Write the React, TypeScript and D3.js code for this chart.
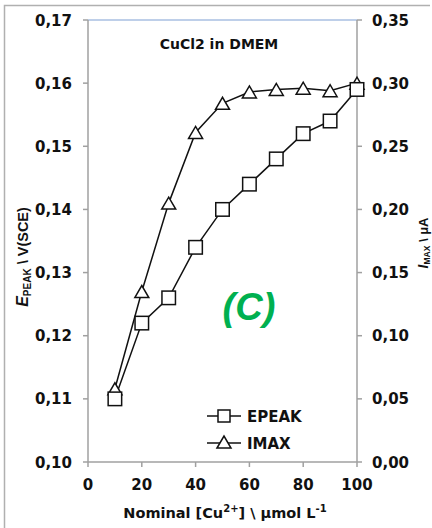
import React from "react";
import * as d3 from "d3";

const concentrations = [10, 20, 30, 40, 50, 60, 70, 80, 90, 100];
const epeak = [0.110, 0.122, 0.126, 0.134, 0.140, 0.144, 0.148, 0.152, 0.154, 0.159];
const imax = [0.058, 0.135, 0.205, 0.261, 0.284, 0.293, 0.295, 0.296, 0.294, 0.300];
const xTicks = [0, 20, 40, 60, 80, 100];
const leftTicks = [0.10, 0.11, 0.12, 0.13, 0.14, 0.15, 0.16, 0.17];
const rightTicks = [0.0, 0.05, 0.10, 0.15, 0.20, 0.25, 0.30, 0.35];

const W = 432, H = 528;
const L = 88, R = 357, T = 20, B = 462;
const font = "'Liberation Sans', Arial, sans-serif";
const wide = "'DejaVu Sans', 'Liberation Sans', sans-serif";
const axisColor = "#a0a0a0";

export default function App() {
  const x = d3.scaleLinear().domain([0, 100]).range([L, R]);
  const yL = d3.scaleLinear().domain([0.10, 0.17]).range([B, T]);
  const yR = d3.scaleLinear().domain([0, 0.35]).range([B, T]);
  const line = d3.line<[number, number]>().x(d => d[0]).y(d => d[1]);
  const ePts: [number, number][] = concentrations.map((c, i) => [x(c), yL(epeak[i])]);
  const iPts: [number, number][] = concentrations.map((c, i) => [x(c), yR(imax[i])]);
  const fmt = (v: number) => v.toFixed(2).replace(".", ",");
  const sq = 13.5;
  const tri = (cx: number, cy: number) => {
    const s = 14, h = 12;
    return `M${cx - s / 2},${cy + h / 2}L${cx},${cy - h / 2}L${cx + s / 2},${cy + h / 2}Z`;
  };
  return (
    <svg width={W} height={H} style={{ position: "absolute", left: 0, top: 0, background: "#fff" }} fontFamily={font}>
      {/* outer frame */}
      <path d={`M4.5,${H}V5.5H430`} fill="none" stroke="#b0b0b0" strokeWidth={1.5} />
      {/* plot top border */}
      <line x1={L} x2={R} y1={T} y2={T} stroke="#7f9fd3" strokeWidth={1.2} />
      {/* axes */}
      <line x1={L} x2={L} y1={T} y2={B} stroke={axisColor} strokeWidth={1.5} />
      <line x1={R} x2={R} y1={T} y2={B} stroke={axisColor} strokeWidth={1.5} />
      <line x1={L} x2={R} y1={B} y2={B} stroke={axisColor} strokeWidth={1.5} />
      {leftTicks.map(t => (
        <g key={"l" + t}>
          <line x1={L - 5} x2={L} y1={yL(t)} y2={yL(t)} stroke={axisColor} strokeWidth={1.5} />
          <text x={L - 16} y={yL(t) + 5.5} textAnchor="end" fontFamily={wide} fontSize={15} fontWeight="bold" fill="#111">{fmt(t)}</text>
        </g>
      ))}
      {rightTicks.map(t => (
        <g key={"r" + t}>
          <line x1={R} x2={R + 5} y1={yR(t)} y2={yR(t)} stroke={axisColor} strokeWidth={1.5} />
          <text x={R + 15} y={yR(t) + 5.5} textAnchor="start" fontFamily={wide} fontSize={15} fontWeight="bold" fill="#111">{fmt(t)}</text>
        </g>
      ))}
      {xTicks.map(t => (
        <g key={"x" + t}>
          <line x1={x(t)} x2={x(t)} y1={B} y2={B + 5} stroke={axisColor} strokeWidth={1.5} />
          <text x={x(t)} y={B + 28} textAnchor="middle" fontFamily={wide} fontSize={15} fontWeight="bold" fill="#111">{t}</text>
        </g>
      ))}
      {/* axis titles */}
      <text x={225} y={518} textAnchor="middle" fontFamily={wide} fontSize={14.5} fontWeight="bold" fill="#111">
        Nominal [Cu<tspan fontSize={10} dy={-6}>2+</tspan><tspan dy={6}>] \ μmol L</tspan><tspan fontSize={10} dy={-6}>-1</tspan>
      </text>
      <text transform={`translate(28,257) rotate(-90)`} textAnchor="middle" fontSize={14.5} fontWeight="bold" fill="#111">
        <tspan fontStyle="italic" fontSize={16}>E</tspan><tspan fontSize={10} dy={3}>PEAK</tspan><tspan dy={-3}> \ V(SCE)</tspan>
      </text>
      <text transform={`translate(428,243) rotate(-90)`} textAnchor="middle" fontSize={13} fontWeight="bold" fill="#111">
        <tspan fontStyle="italic" fontSize={14}>I</tspan><tspan fontSize={8.5} dy={2}>MAX</tspan><tspan dy={-2}> \ μA</tspan>
      </text>
      {/* title */}
      <text x={219} y={49} textAnchor="middle" fontFamily={wide} fontSize={14} fontWeight="bold" fill="#111">CuCl2 in DMEM</text>
      <text x={249} y={320} textAnchor="middle" fontSize={38} fontWeight="bold" fontStyle="italic" fill="#00b050">(C)</text>
      {/* series */}
      <path d={line(ePts) ?? ""} fill="none" stroke="#111" strokeWidth={1.5} />
      <path d={line(iPts) ?? ""} fill="none" stroke="#111" strokeWidth={1.5} />
      {iPts.map((p, i) => (
        <path key={"t" + i} d={tri(p[0], p[1])} fill="#fff" stroke="#111" strokeWidth={1.5} />
      ))}
      {ePts.map((p, i) => (
        <rect key={"s" + i} x={p[0] - sq / 2} y={p[1] - sq / 2} width={sq} height={sq} fill="#fff" stroke="#111" strokeWidth={1.5} />
      ))}
      {/* legend */}
      <g>
        <line x1={207} x2={241} y1={416} y2={416} stroke="#111" strokeWidth={1.5} />
        <rect x={224 - 6} y={416 - 6} width={12} height={12} fill="#fff" stroke="#111" strokeWidth={1.5} />
        <text x={247} y={421.5} fontFamily={wide} fontSize={15} fontWeight="bold" fill="#111">EPEAK</text>
        <line x1={207} x2={241} y1={443} y2={443} stroke="#111" strokeWidth={1.5} />
        <path d={tri(224, 442)} fill="#fff" stroke="#111" strokeWidth={1.5} />
        <text x={247} y={448.5} fontFamily={wide} fontSize={15} fontWeight="bold" fill="#111">IMAX</text>
      </g>
    </svg>
  );
}
